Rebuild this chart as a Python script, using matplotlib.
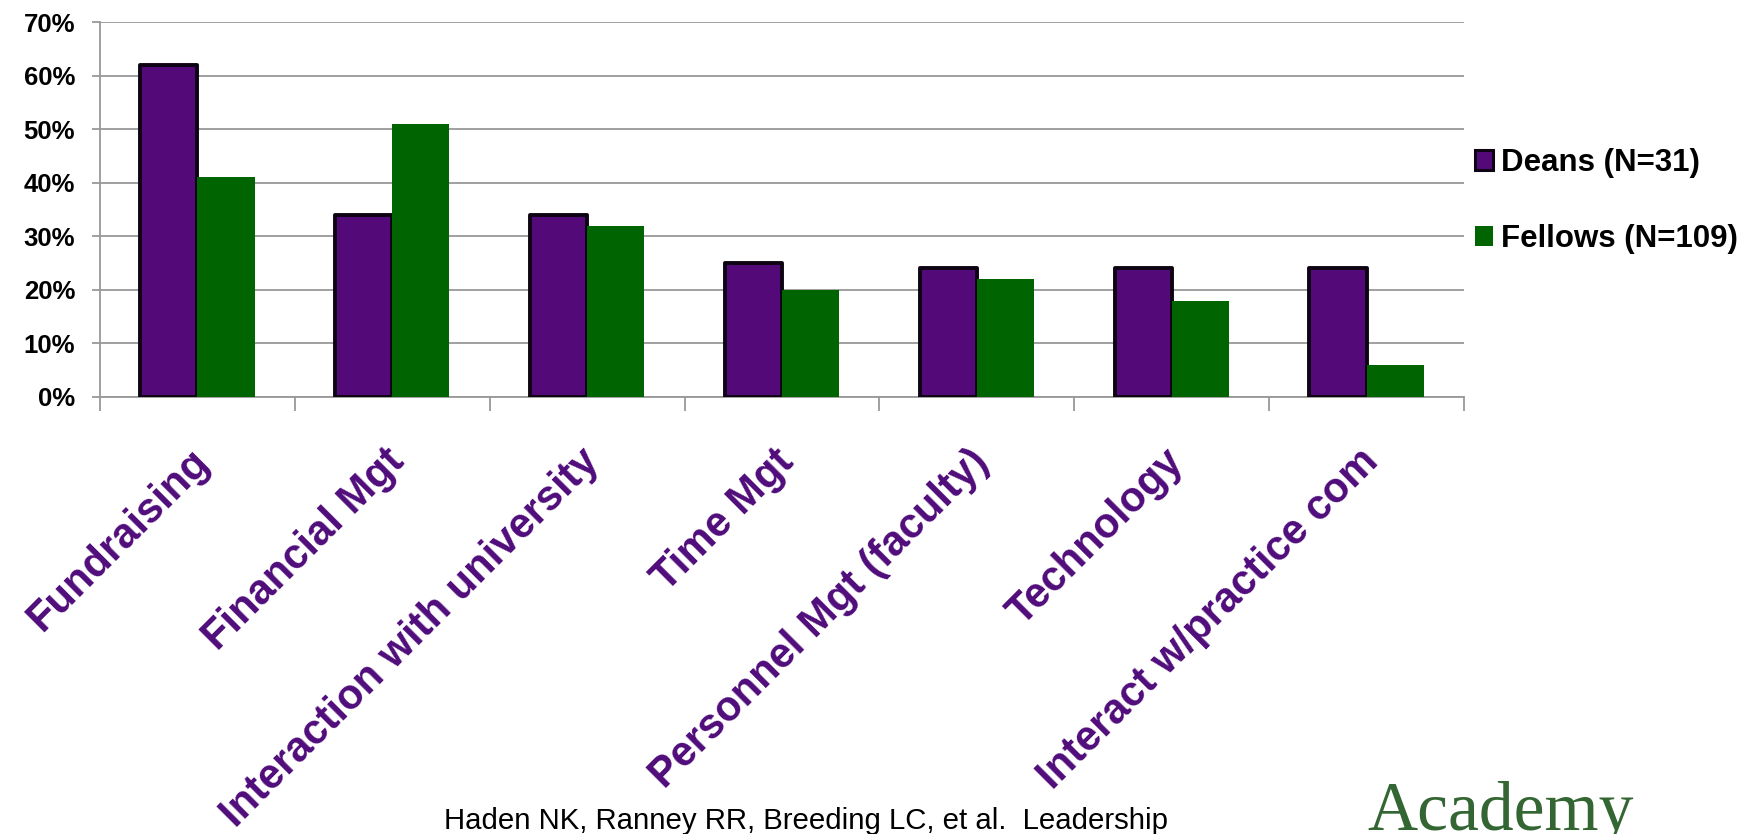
import numpy as np
import matplotlib.pyplot as plt
import matplotlib.transforms as mtransforms
from matplotlib.patches import Patch
from matplotlib.ticker import FixedLocator, PercentFormatter

# skills rated as needing more preparation
categories = ['Fundraising', 'Financial Mgt', 'Interaction with university',
              'Time Mgt', 'Personnel Mgt (faculty)', 'Technology',
              'Interact w/practice com']
deans = [62, 34, 34, 25, 24, 24, 24]
fellows = [41, 51, 32, 20, 22, 18, 6]
series_labels = ['Deans (N=31)', 'Fellows (N=109)']

PURPLE = '#530a78'
GREEN = '#006400'
GRID = '#999999'

plt.rcParams['font.family'] = ['Liberation Sans', 'DejaVu Sans']

fig = plt.figure(figsize=(17.51, 8.34), dpi=100)
ax = fig.add_axes([100 / 1751, 1 - 397 / 834, 1364 / 1751, 375 / 834])

x = np.arange(len(categories))
w = 0.293
ax.bar(x - w / 2, np.array(deans) / 100, w, color=PURPLE, edgecolor='#0d0312',
       linewidth=2.8, joinstyle='round', zorder=3)
ax.bar(x + w / 2, np.array(fellows) / 100, w, color=GREEN, linewidth=0, zorder=3)

ax.set_xlim(-0.5, len(categories) - 0.5)
ax.set_ylim(0, 0.7)
ax.set_axisbelow(True)

ax.yaxis.set_major_locator(FixedLocator(np.arange(0, 0.71, 0.1)))
ax.yaxis.set_major_formatter(PercentFormatter(1.0, decimals=0))
ax.grid(axis='y', color=GRID, linewidth=1.3)
ax.tick_params(axis='y', length=6, width=1.3, color=GRID, pad=12,
               labelsize=18.5)
for lab in ax.get_yticklabels():
    lab.set_fontweight('bold')

# tick marks between categories, labels drawn separately below
ax.set_xticks(np.arange(-0.5, len(categories), 1.0))
ax.set_xticklabels([])
ax.tick_params(axis='x', length=10, width=1.3, color=GRID)

lab_trans = mtransforms.blended_transform_factory(ax.transData, ax.transAxes) + \
    mtransforms.ScaledTranslation(-6 / 72, -32 / 72, fig.dpi_scale_trans)
for xi, name in zip(x, categories):
    ax.text(xi, 0, name, transform=lab_trans, rotation=45, ha='right',
            va='top', rotation_mode='anchor', fontsize=30, fontweight='bold',
            color='#4f0c7a', clip_on=False)

for side in ['top', 'right']:
    ax.spines[side].set_visible(False)
for side in ['left', 'bottom']:
    ax.spines[side].set_color(GRID)
    ax.spines[side].set_linewidth(1.3)

handles = [Patch(facecolor=PURPLE, edgecolor='#0d0312', linewidth=2.2),
           Patch(facecolor=GREEN, edgecolor='none')]
leg = fig.legend(handles, series_labels, loc='center left',
                 bbox_to_anchor=(1462 / 1751, 1 - 201 / 834), frameon=False,
                 handlelength=0.6, handleheight=0.6, handletextpad=0.25,
                 labelspacing=1.45, borderaxespad=0,
                 prop={'weight': 'bold', 'size': 22.5})

fig.text(444 / 1751, 1 - 829 / 834,
         'Haden NK, Ranney RR, Breeding LC, et al.  Leadership',
         fontsize=21.2, va='baseline', ha='left', color='black')
fig.text(1367 / 1751, 1 - 830 / 834, 'Academy', fontsize=50,
         family='Liberation Serif', color='#336633', va='baseline', ha='left')

fig.savefig('out.png', dpi=100)
